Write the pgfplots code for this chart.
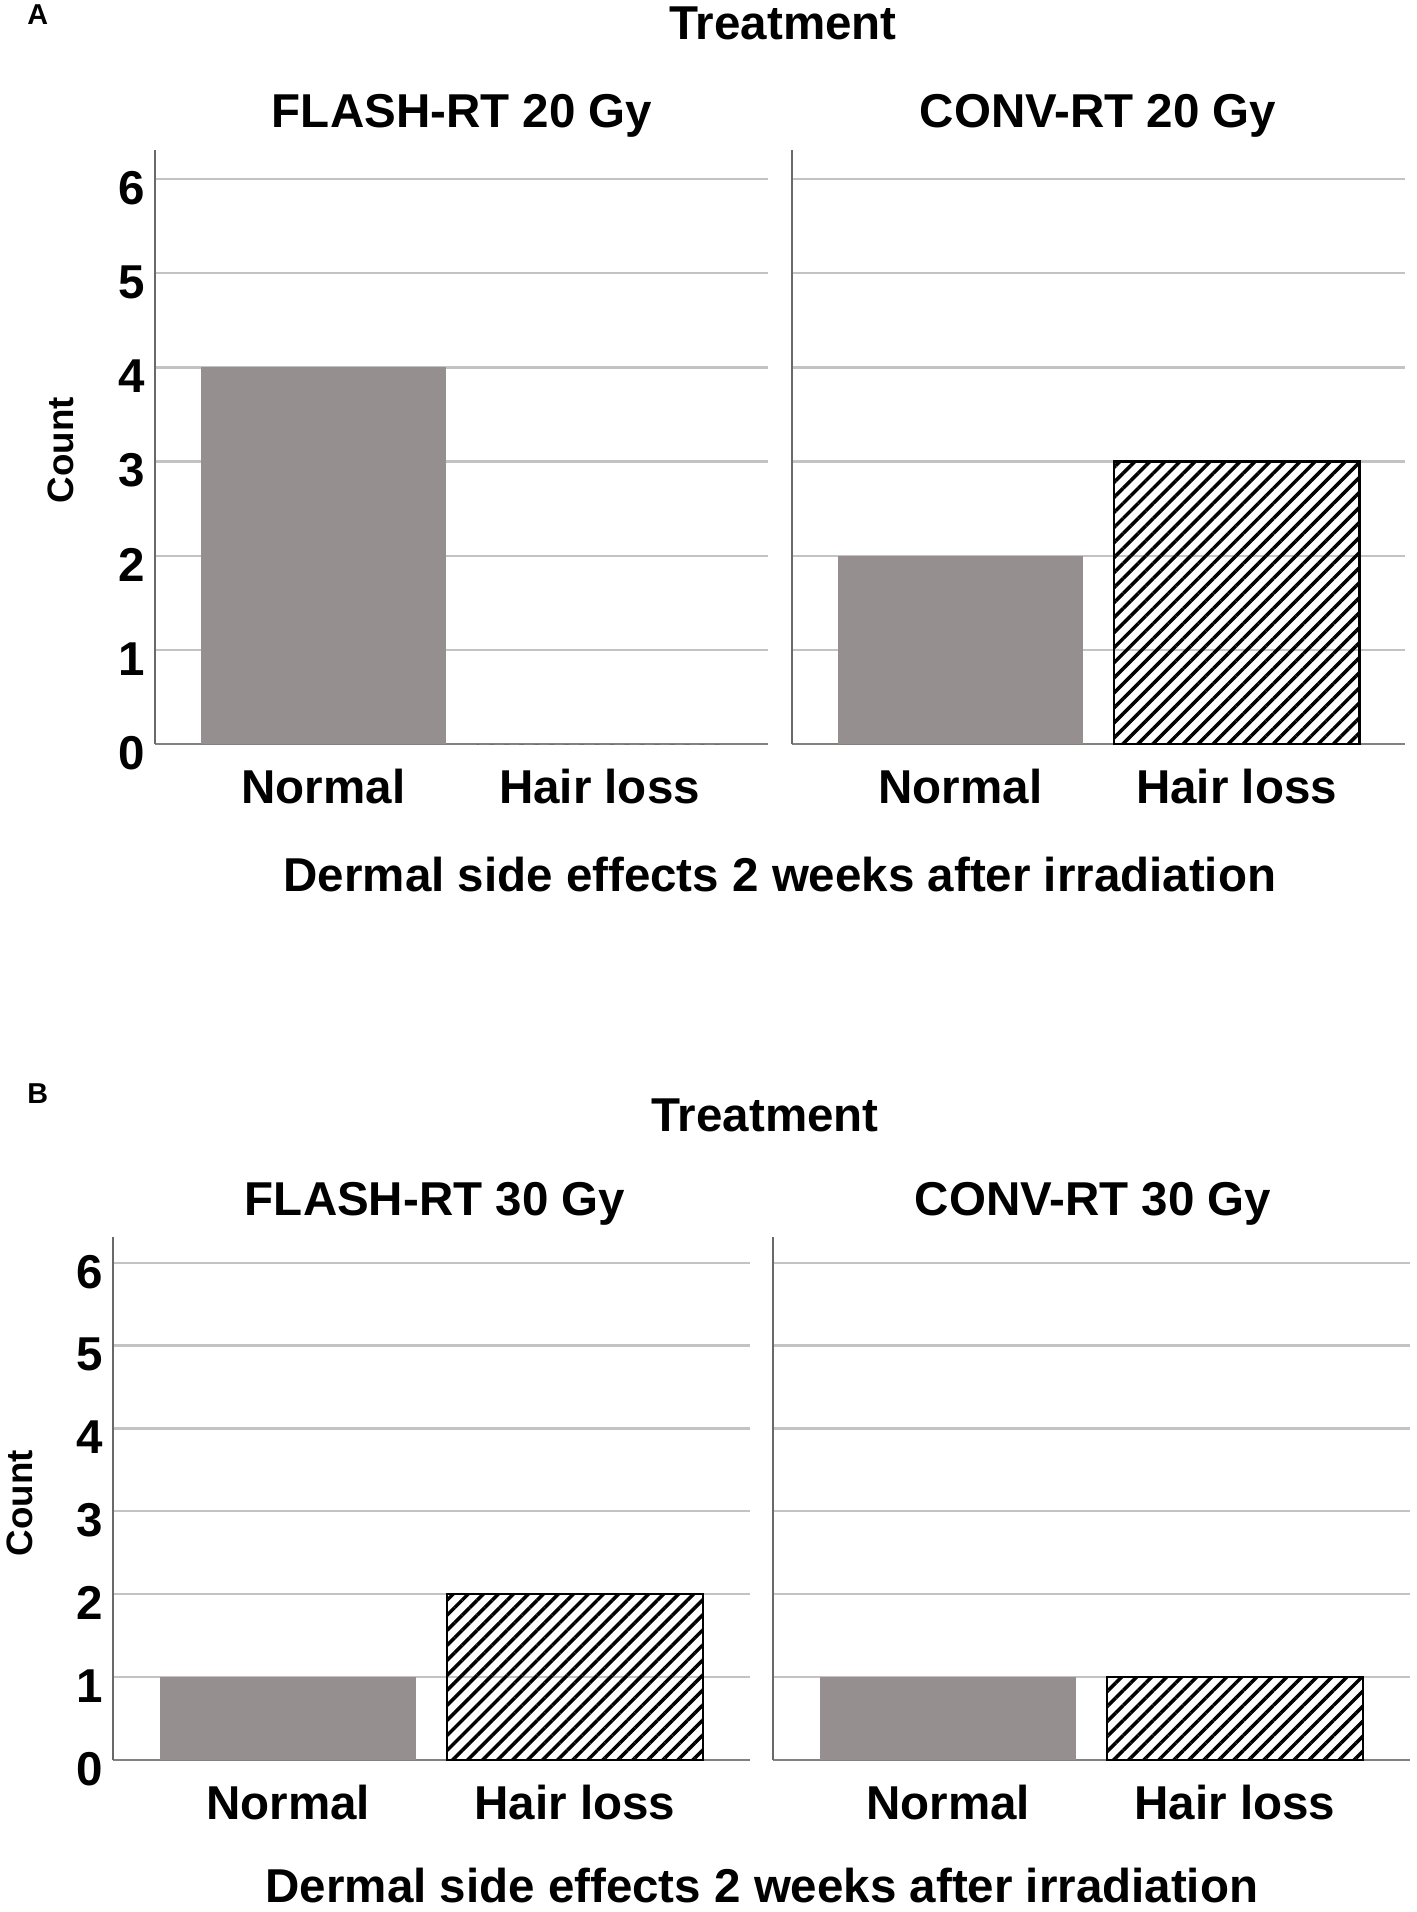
\documentclass[border=0pt]{standalone}
\usepackage{fontspec}
\setmainfont{Liberation Sans}
\usepackage{pgfplots}
\pgfplotsset{compat=1.18}
\usetikzlibrary{patterns.meta}
\definecolor{bargray}{RGB}{150,143,143}
\definecolor{gridgray}{RGB}{195,195,195}
\definecolor{axgray}{RGB}{105,105,105}
\definecolor{baseline}{RGB}{130,130,130}
\newcommand{\uu}{0.4bp}
\newcommand{\bigf}{\fontsize{19bp}{23bp}\selectfont\bfseries}
\newcommand{\midf}{\fontsize{14.7bp}{17bp}\selectfont\bfseries}
\newcommand{\smf}{\fontsize{11.5bp}{13bp}\selectfont\bfseries}
\pgfplotsset{
  panel/.style={
    scale only axis,
    xmin=-0.61, xmax=1.61, ymin=0, ymax=6.31,
    axis lines*=left,
    x axis line style={draw=baseline, line width=1bp},
    y axis line style={draw=axgray, line width=0.7bp},
    ymajorgrids, grid style={draw=gridgray, line width=0.9bp},
    ytick={0,1,2,3,4,5,6},
    xtick={0,1}, xticklabels={Normal,Hair loss},
    major tick length=0pt,
    tick style={draw=none},
    /pgf/number format/assume math mode=true,
    ticklabel style={font=\bigf},
    yticklabel style={inner sep=0pt, xshift=-4bp, yshift=-3.6bp},
    xticklabel style={anchor=base, inner sep=0pt, yshift=-23.6bp},
    ybar, bar width=0.89,
  },
  graybar/.style={fill=bargray, draw=none, bar shift=0pt},
  hatchbar/.style={draw=black, line width=0.9bp, bar shift=0pt,
    pattern={Lines[angle=45,distance=4.25bp,line width=1.4bp]}, pattern color=black},
}
\begin{document}
\begin{tikzpicture}
\useasboundingbox (0,0) rectangle (1417*\uu,-1912*\uu);

% ---------------- Panel A ----------------
\node[anchor=base west, font=\smf, inner sep=0pt] at (27*\uu,-24*\uu) {A};
\node[anchor=base, font=\bigf, inner sep=0pt] at (783*\uu,-39*\uu) {Treatment};
\node[anchor=base, font=\bigf, inner sep=0pt] at (462*\uu,-127*\uu) {FLASH-RT 20 Gy};
\node[anchor=base, font=\bigf, inner sep=0pt] at (1098*\uu,-127*\uu) {CONV-RT 20 Gy};
\node[anchor=base, font=\bigf, inner sep=0pt] at (780*\uu,-891*\uu) {Dermal side effects 2 weeks after irradiation};
\node[rotate=90, font=\midf, inner sep=0pt] at (61*\uu,-450*\uu) {Count};

\begin{axis}[panel, at={(155*\uu,-744*\uu)}, anchor=south west,
  width=613*\uu, height=594*\uu]
  \addplot[graybar] coordinates {(0,4)};
  \addplot[hatchbar, draw=none] coordinates {(1,0)};
\end{axis}
\begin{axis}[panel, at={(792*\uu,-744*\uu)}, anchor=south west,
  width=613*\uu, height=594*\uu, yticklabels={}]
  \addplot[graybar] coordinates {(0,2)};
  \addplot[hatchbar] coordinates {(1,3)};
\end{axis}

% ---------------- Panel B ----------------
\node[anchor=base west, font=\smf, inner sep=0pt] at (27*\uu,-1103*\uu) {B};
\node[anchor=base, font=\bigf, inner sep=0pt] at (765*\uu,-1131*\uu) {Treatment};
\node[anchor=base, font=\bigf, inner sep=0pt] at (435*\uu,-1215*\uu) {FLASH-RT 30 Gy};
\node[anchor=base, font=\bigf, inner sep=0pt] at (1093*\uu,-1215*\uu) {CONV-RT 30 Gy};
\node[anchor=base, font=\bigf, inner sep=0pt] at (762*\uu,-1902*\uu) {Dermal side effects 2 weeks after irradiation};
\node[rotate=90, font=\midf, inner sep=0pt] at (20*\uu,-1503*\uu) {Count};

\begin{axis}[panel, at={(113*\uu,-1760*\uu)}, anchor=south west,
  width=637*\uu, height=523*\uu]
  \addplot[graybar] coordinates {(0,1)};
  \addplot[hatchbar] coordinates {(1,2)};
\end{axis}
\begin{axis}[panel, at={(773*\uu,-1760*\uu)}, anchor=south west,
  width=637*\uu, height=523*\uu, yticklabels={}]
  \addplot[graybar] coordinates {(0,1)};
  \addplot[hatchbar] coordinates {(1,1)};
\end{axis}
\end{tikzpicture}
\end{document}
